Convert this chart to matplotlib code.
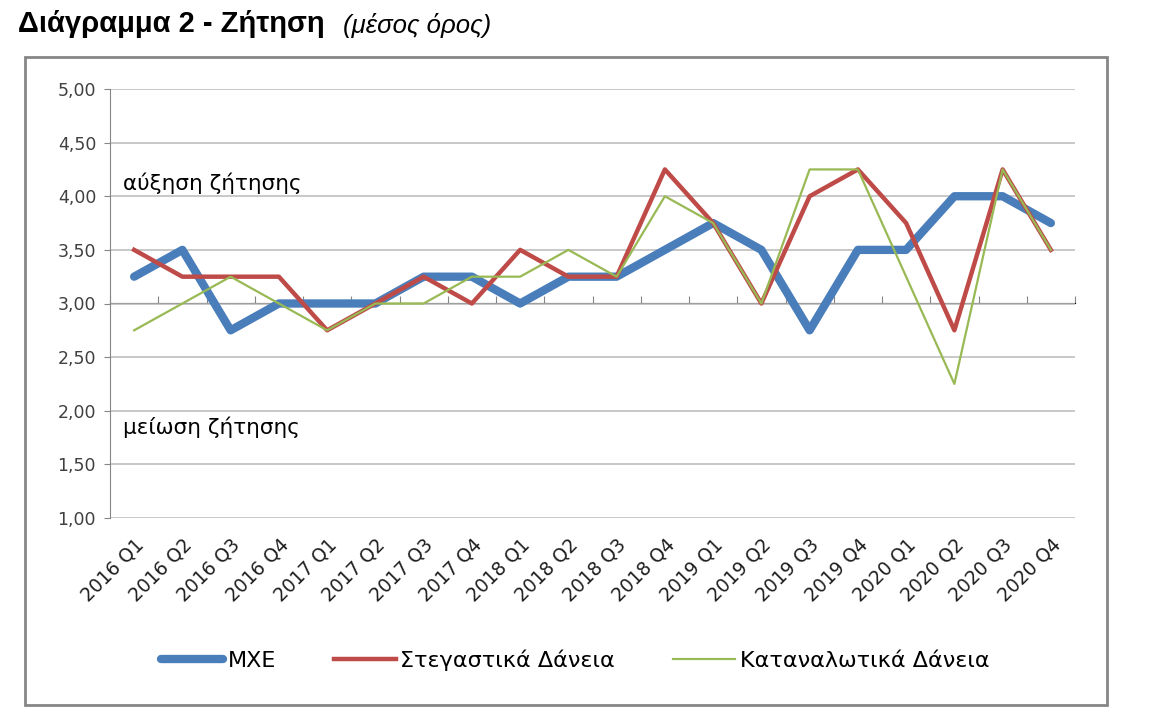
"""Διάγραμμα 2 - Ζήτηση (μέσος όρος)"""
import matplotlib
matplotlib.use("Agg")
import matplotlib.pyplot as plt
from matplotlib.patches import Rectangle
from matplotlib.ticker import FuncFormatter, FixedLocator, NullFormatter

quarters = ["2016 Q1", "2016 Q2", "2016 Q3", "2016 Q4",
            "2017 Q1", "2017 Q2", "2017 Q3", "2017 Q4",
            "2018 Q1", "2018 Q2", "2018 Q3", "2018 Q4",
            "2019 Q1", "2019 Q2", "2019 Q3", "2019 Q4",
            "2020 Q1", "2020 Q2", "2020 Q3", "2020 Q4"]

mxe = [3.25, 3.50, 2.75, 3.00, 3.00, 3.00, 3.25, 3.25, 3.00, 3.25,
       3.25, 3.50, 3.75, 3.50, 2.75, 3.50, 3.50, 4.00, 4.00, 3.75]
housing = [3.50, 3.25, 3.25, 3.25, 2.75, 3.00, 3.25, 3.00, 3.50, 3.25,
           3.25, 4.25, 3.75, 3.00, 4.00, 4.25, 3.75, 2.75, 4.25, 3.50]
consumer = [2.75, 3.00, 3.25, 3.00, 2.75, 3.00, 3.00, 3.25, 3.25, 3.50,
            3.25, 4.00, 3.75, 3.00, 4.25, 4.25, 3.25, 2.25, 4.25, 3.50]

yticks = [1.0, 1.5, 2.0, 2.5, 3.0, 3.5, 4.0, 4.5, 5.0]

fig = plt.figure(figsize=(11.5, 7.27), dpi=100)

# outer frame of the chart
fig.patches.append(Rectangle((25 / 1150, 1 - 705 / 727), 1082 / 1150, 648 / 727,
                             transform=fig.transFigure, fill=False,
                             edgecolor="#868686", linewidth=2))

fig.text(18 / 1150, 1 - 24 / 727, "Διάγραμμα 2 - Ζήτηση", fontsize=21,
         fontweight="bold", family="Liberation Sans", va="center")
fig.text(343 / 1150, 1 - 25 / 727, "(μέσος όρος)", fontsize=18.5,
         style="italic", family="Liberation Sans", va="center")

ax = fig.add_axes([110 / 1150, 1 - 518 / 727, 965 / 1150, 429 / 727])
x = list(range(len(quarters)))

ax.plot(x, mxe, color="#4A7EBB", lw=6, solid_capstyle="round",
        solid_joinstyle="round", label="ΜΧΕ", zorder=3)
ax.plot(x, housing, color="#BE4B48", lw=3.2, solid_joinstyle="round",
        label="Στεγαστικά Δάνεια", zorder=4)
ax.plot(x, consumer, color="#98B954", lw=1.6, label="Καταναλωτικά Δάνεια",
        zorder=5)

ax.set_xlim(-0.5, len(quarters) - 0.5)
ax.set_ylim(1.0, 5.0)
ax.set_yticks(yticks)
ax.yaxis.set_major_formatter(FuncFormatter(lambda v, p: f"{v:.2f}".replace(".", ",")))
ax.grid(axis="y", color="#BFBFBF", lw=1.2)
ax.set_axisbelow(True)

for s in ["top", "right", "bottom"]:
    ax.spines[s].set_visible(False)
ax.spines["left"].set_color("#868686")
ax.tick_params(axis="y", length=4, color="#868686", labelsize=12.5,
               labelcolor="#404040", pad=6)

ax.set_xticks(x)
ax.set_xticklabels(quarters, rotation=45, ha="right", rotation_mode="anchor",
                   fontsize=13.5, color="#202020")
ax.tick_params(axis="x", length=0, pad=12)

# category axis crossing at 3,00
sec = ax.secondary_xaxis((3.0 - 1.0) / 4.0)
sec.spines["bottom"].set_color("#868686")
sec.spines["bottom"].set_linewidth(1.2)
sec.xaxis.set_major_locator(FixedLocator([i - 0.5 for i in range(len(quarters) + 1)]))
sec.xaxis.set_major_formatter(NullFormatter())
sec.tick_params(axis="x", length=5, color="#868686", direction="out")

ax.text(0.013, 0.781, "αύξηση ζήτησης", transform=ax.transAxes, fontsize=15.5,
        va="center", family="DejaVu Sans")
ax.text(0.013, 0.212, "μείωση ζήτησης", transform=ax.transAxes, fontsize=15.5,
        va="center", family="DejaVu Sans")

fig.legend(loc="center", bbox_to_anchor=(0.5, 1 - 660 / 727), ncol=3,
           frameon=False, fontsize=16, handlelength=2.8, columnspacing=2.6,
           handletextpad=0.2)

fig.savefig("out.png", dpi=100)
